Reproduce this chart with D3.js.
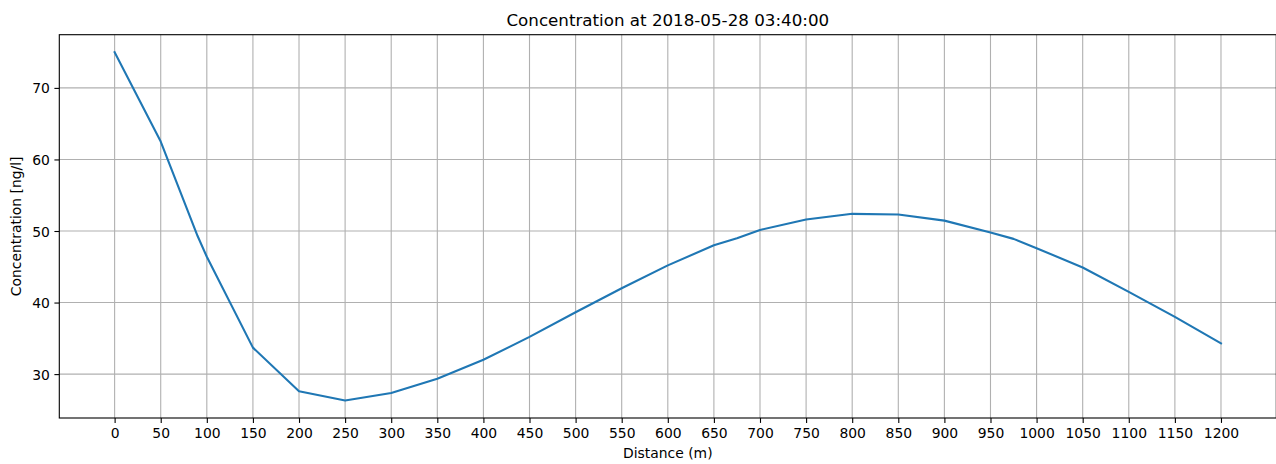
<!DOCTYPE html>
<html>
<head>
<meta charset="utf-8">
<script src="https://cdn.jsdelivr.net/npm/d3@7"></script>
<style>
  html, body { margin: 0; padding: 0; background: #fff; }
  svg { display: block; font-family: "DejaVu Sans", sans-serif; }
</style>
</head>
<body>
<svg id="chart" width="1276" height="464"></svg>
<script>
// ---- data ----
const distances = [0, 50, 90, 100, 150, 200, 250, 300, 350, 400, 450, 500, 550, 600, 650, 675, 700, 750, 800, 850, 900, 950, 975, 1000, 1050, 1100, 1150, 1200];
const concentrations = [75.0, 62.5, 49.3, 46.4, 33.7, 27.6, 26.3, 27.35, 29.35, 32.0, 35.2, 38.65, 42.0, 45.2, 48.0, 49.0, 50.15, 51.6, 52.4, 52.3, 51.45, 49.8, 48.9, 47.6, 44.9, 41.5, 38.0, 34.3];
const xTicks = [0, 50, 100, 150, 200, 250, 300, 350, 400, 450, 500, 550, 600, 650, 700, 750, 800, 850, 900, 950, 1000, 1050, 1100, 1150, 1200];
const yTicks = [30, 40, 50, 60, 70];
const titleText = "Concentration at 2018-05-28 03:40:00";
const xLabel = "Distance (m)";
const yLabel = "Concentration [ng/l]";

(function () {
const svg = d3.select("#chart");
const mLeft = 59.3, mRight = 1276.3, mTop = 34.7, mBottom = 418;

const data = distances.map((d, i) => ({x: d, y: concentrations[i]}));
const yMin = d3.min(concentrations), yMax = d3.max(concentrations);
const yPad = (yMax - yMin) * 0.05;

const x = d3.scaleLinear().domain([-60, 1260]).range([mLeft, mRight]);
const y = d3.scaleLinear().domain([yMin - yPad, yMax + yPad]).range([mBottom, mTop]);

// grid
const grid = svg.append("g");
grid.selectAll("line.gx").data(xTicks).enter().append("line")
  .attr("x1", d => x(d)).attr("x2", d => x(d))
  .attr("y1", mTop).attr("y2", mBottom)
  .attr("stroke", "#b0b0b0").attr("stroke-width", 1.1);
grid.selectAll("line.gy").data(yTicks).enter().append("line")
  .attr("x1", mLeft).attr("x2", mRight)
  .attr("y1", d => y(d)).attr("y2", d => y(d))
  .attr("stroke", "#b0b0b0").attr("stroke-width", 1.1);

// line
svg.append("path")
  .datum(data)
  .attr("fill", "none")
  .attr("stroke", "#1f77b4")
  .attr("stroke-width", 2.1)
  .attr("stroke-linejoin", "round")
  .attr("stroke-linecap", "square")
  .attr("d", d3.line().x(d => x(d.x)).y(d => y(d.y)));

// axes
const xAxis = d3.axisBottom(x).tickValues(xTicks).tickSize(4.9).tickPadding(4.5).tickFormat(d3.format("d"));
const yAxis = d3.axisLeft(y).tickValues(yTicks).tickSize(4.9).tickPadding(4.5).tickFormat(d3.format("d"));

const gx = svg.append("g").attr("transform", `translate(0,${mBottom})`).call(xAxis);
const gy = svg.append("g").attr("transform", `translate(${mLeft},0)`).call(yAxis);
[gx, gy].forEach(g => {
  g.select(".domain").remove();
  g.selectAll(".tick line").attr("stroke", "#000").attr("stroke-width", 1.1);
  g.selectAll(".tick text").attr("fill", "#000").style("font-size", "13.9px").style("font-family", "DejaVu Sans");
});
gx.selectAll(".tick text").attr("dy", "0.76em");
gy.selectAll(".tick text").attr("dy", "0.36em");

// spines
svg.append("rect")
  .attr("x", mLeft).attr("y", mTop)
  .attr("width", mRight - mLeft).attr("height", mBottom - mTop)
  .attr("fill", "none").attr("stroke", "#000").attr("stroke-width", 1.1);

// title and labels
svg.append("text")
  .attr("x", (mLeft + mRight) / 2).attr("y", 26)
  .attr("text-anchor", "middle")
  .style("font-size", "16.7px").attr("fill", "#000")
  .text(titleText);

svg.append("text")
  .attr("x", (mLeft + mRight) / 2).attr("y", 458)
  .attr("text-anchor", "middle")
  .style("font-size", "13.9px").attr("fill", "#000")
  .text(xLabel);

svg.append("text")
  .attr("transform", `translate(21,${(mTop + mBottom) / 2}) rotate(-90)`)
  .attr("text-anchor", "middle")
  .style("font-size", "13.9px").attr("fill", "#000")
  .text(yLabel);
})();
</script>
</body>
</html>
